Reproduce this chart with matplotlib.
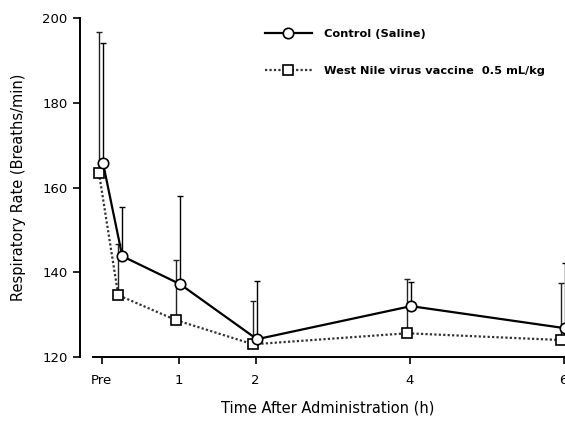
import matplotlib
matplotlib.use("Agg")
import matplotlib.pyplot as plt
import matplotlib.transforms as mtransforms
from matplotlib.lines import Line2D
import numpy as np

# ---- data ----
times = [0, 0.25, 1, 2, 4, 6]
tick_pos = [0, 1, 2, 4, 6]
tick_labels = ["Pre", "1", "2", "4", "6"]
y_ticks = [120, 140, 160, 180, 200]

control_mean = [165.8, 143.8, 137.2, 124.2, 132.0, 126.8]
control_upper = [194.1, 155.4, 158.0, 137.9, 137.7, 142.1]
vaccine_mean = [163.4, 134.6, 128.7, 123.0, 125.6, 124.0]
vaccine_upper = [196.7, 146.6, 142.9, 133.2, 138.4, 137.4]

control_label = "Control (Saline)"
vaccine_label = "West Nile virus vaccine  0.5 mL/kg"
xlabel = "Time After Administration (h)"
ylabel = "Respiratory Rate (Breaths/min)"

W, H = 565, 423
fig = plt.figure(figsize=(W / 100, H / 100), dpi=100)
plt.rcParams['font.family'] = ['DejaVu Sans']

# axes placement (pixels)
x0_px, x_per_h = 101.5, 77.0
xmin, xmax = -0.28, 6.1
left_px = x0_px + x_per_h * xmin
right_px = x0_px + x_per_h * xmax
top_px, bottom_px = 18, 357
ax = fig.add_axes([left_px / W, 1 - bottom_px / H,
                   (right_px - left_px) / W, (bottom_px - top_px) / H])
ax.set_xlim(xmin, xmax)
ax.set_ylim(120, 200)

c_err = np.array(control_upper) - np.array(control_mean)
v_err = np.array(vaccine_upper) - np.array(vaccine_mean)

off_c = ax.transData + mtransforms.ScaledTranslation(1.5 / 100, 0, fig.dpi_scale_trans)
off_v = ax.transData + mtransforms.ScaledTranslation(-2.5 / 100, 0, fig.dpi_scale_trans)

# error bars (upper only)
ax.errorbar(times, vaccine_mean, yerr=[np.zeros(len(times)), v_err], fmt='none',
            ecolor='#222222', elinewidth=1.0, capsize=2, capthick=1.0,
            transform=off_v, zorder=2)
ax.errorbar(times, control_mean, yerr=[np.zeros(len(times)), c_err], fmt='none',
            ecolor='black', elinewidth=1.0, capsize=2, capthick=1.0,
            transform=off_c, zorder=2)

ax.plot(times, vaccine_mean, linestyle=(0, (1, 1)), color='#333333', lw=1.6,
        marker='s', markersize=7.5, markerfacecolor='white', markeredgecolor='black',
        markeredgewidth=1.2, transform=off_v, zorder=3)
ax.plot(times, control_mean, linestyle='-', color='black', lw=1.6,
        marker='o', markersize=7.5, markerfacecolor='white', markeredgecolor='black',
        markeredgewidth=1.2, transform=off_c, zorder=4)

# spines
for s in ['top', 'right']:
    ax.spines[s].set_visible(False)
ax.spines['left'].set_linewidth(1.4)
ax.spines['bottom'].set_linewidth(1.4)
ax.spines['bottom'].set_bounds(-0.11, xmax)

ax.set_xticks(tick_pos)
ax.set_xticklabels(tick_labels)
ax.set_yticks(y_ticks)
ax.tick_params(axis='both', direction='out', length=5, width=1.2, labelsize=9.5, colors='black')
ax.tick_params(axis='y', pad=4)
ax.tick_params(axis='x', pad=7)

ax.set_xlabel(xlabel, fontsize=10.5)
ax.xaxis.set_label_coords((0.5 * (-0.11 + xmax) - xmin) / (xmax - xmin) - 0.008, -0.128)
ax.set_ylabel(ylabel, fontsize=10.5)
ax.yaxis.set_label_coords(-0.11, 0.5)

handles = [
    Line2D([], [], linestyle='-', color='black', lw=1.6, marker='o', markersize=7.5,
           markerfacecolor='white', markeredgecolor='black', markeredgewidth=1.2),
    Line2D([], [], linestyle=(0, (1, 1)), color='#333333', lw=1.6, marker='s', markersize=7.5,
           markerfacecolor='white', markeredgecolor='black', markeredgewidth=1.2),
]
leg = fig.legend(handles, [control_label, vaccine_label], loc='upper left',
                 bbox_to_anchor=(265 / W, 1 - 29 / H), bbox_transform=fig.transFigure,
                 frameon=False, borderpad=0, borderaxespad=0, handlelength=4.1,
                 handletextpad=1.1, labelspacing=2.4, numpoints=1,
                 prop={'size': 8.2, 'weight': 'bold'})

fig.savefig("out.png", dpi=100)
